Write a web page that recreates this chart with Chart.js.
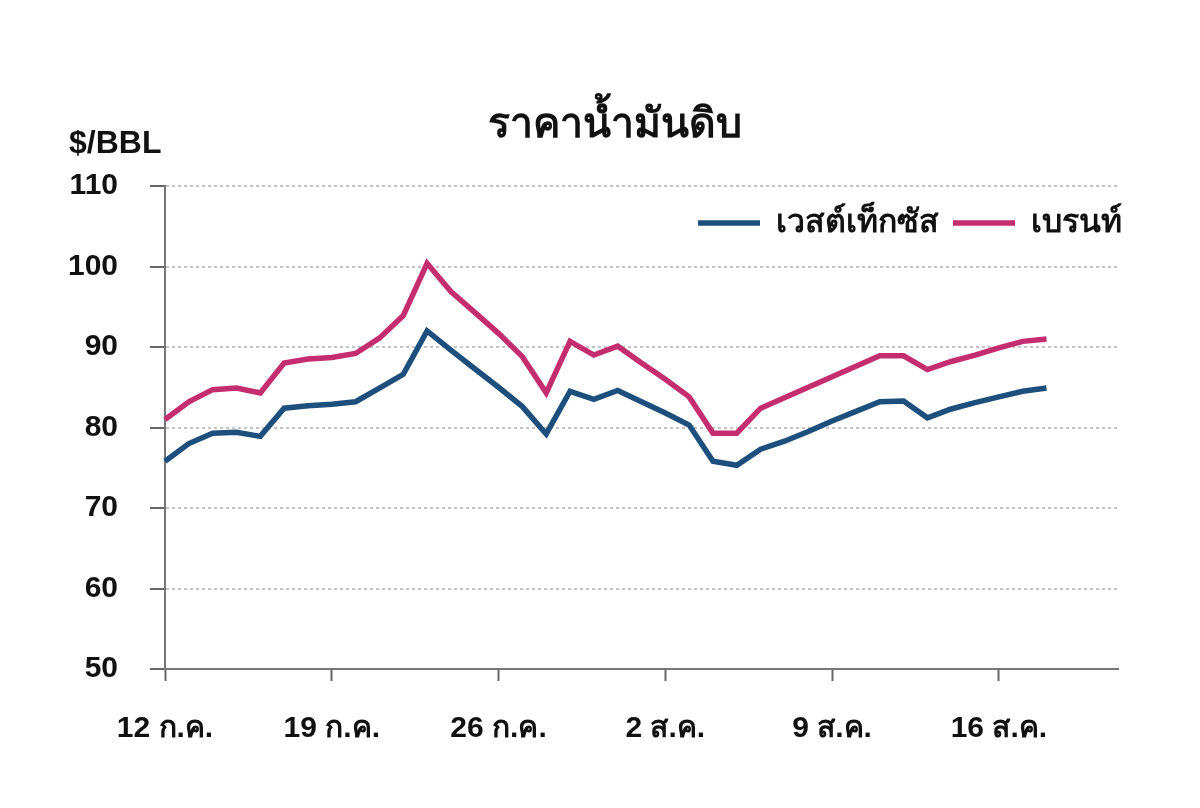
<!DOCTYPE html>
<html lang="th">
<head>
<meta charset="utf-8">
<title>ราคาน้ำมันดิบ</title>
<script src="https://cdn.jsdelivr.net/npm/chart.js@4/dist/chart.umd.min.js"></script>
<style>
    body { margin: 0; background: #fff; }
    #wrap { position: relative; width: 1200px; height: 808px; }
    #title { position: absolute; left: 0; width: 1230px; top: 90px; text-align: center;
        font: bold 41px 'Liberation Sans', 'Noto Sans', sans-serif; color: #111; }
    #unit { position: absolute; left: 69px; top: 124px;
        font: bold 32px 'Liberation Sans', Arial, sans-serif; color: #111; }
</style>
</head>
<body>
<div id="wrap">
    <canvas id="oil-chart"></canvas>
    <div id="title">ราคาน้ำมันดิบ</div>
    <div id="unit">$/BBL</div>
</div>
<script>
// วันที่ 12 ก.ค. - 21 ส.ค.
const days = [
    "12 ก.ค.", "13 ก.ค.", "14 ก.ค.", "15 ก.ค.", "16 ก.ค.", "17 ก.ค.", "18 ก.ค.",
    "19 ก.ค.", "20 ก.ค.", "21 ก.ค.", "22 ก.ค.", "23 ก.ค.", "24 ก.ค.", "25 ก.ค.",
    "26 ก.ค.", "27 ก.ค.", "28 ก.ค.", "29 ก.ค.", "30 ก.ค.", "31 ก.ค.", "1 ส.ค.",
    "2 ส.ค.", "3 ส.ค.", "4 ส.ค.", "5 ส.ค.", "6 ส.ค.", "7 ส.ค.", "8 ส.ค.",
    "9 ส.ค.", "10 ส.ค.", "11 ส.ค.", "12 ส.ค.", "13 ส.ค.", "14 ส.ค.", "15 ส.ค.",
    "16 ส.ค.", "17 ส.ค.", "18 ส.ค.", "19 ส.ค.", "20 ส.ค.", "21 ส.ค."
];

// เวสต์เท็กซัส (WTI)
const wti = [
    75.8, 78.0, 79.3, 79.4, 78.9, 82.4, 82.7, 82.9, 83.2, 84.9,
    86.6, 92.0, 89.6, 87.3, 85.0, 82.6, 79.2, 84.5, 83.5, 84.6,
    83.2, 81.8, 80.3, 75.8, 75.3, 77.3, 78.3, 79.5, 80.8, 82.0,
    83.2, 83.3, 81.2, 82.3, 83.1, 83.8, 84.5, 84.9
];

// เบรนท์
const brent = [
    81.0, 83.2, 84.7, 84.9, 84.3, 88.0, 88.5, 88.7, 89.2, 91.1,
    93.9, 100.4, 96.9, 94.3, 91.7, 88.8, 84.3, 90.7, 89.0, 90.1,
    88.0, 86.0, 83.8, 79.3, 79.3, 82.4, 83.7, 85.0, 86.3, 87.6,
    88.9, 88.9, 87.2, 88.2, 89.0, 89.9, 90.7, 91.0
];

const seriesNames = ["เวสต์เท็กซัส", "เบรนท์"];
const yTicks = [50, 60, 70, 80, 90, 100, 110];

Chart.defaults.font.family = "'Liberation Sans', Arial, 'Noto Sans', sans-serif";
Chart.defaults.font.weight = "bold";
Chart.defaults.color = "#111";

// ย้าย legend ลงมาไว้ในพื้นที่กราฟ มุมขวาบน
const legendInside = {
    id: "legendInside",
    afterLayout(chart) {
        const lg = chart.legend;
        const dy = 193 - lg.top;
        const dx = 18;
        lg.top += dy;
        lg.bottom += dy;
        lg.left += dx;
        lg.right += dx;
    }
};

const ctx = document.getElementById("oil-chart").getContext("2d");
new Chart(ctx, {
    type: "line",
    data: {
        labels: days,
        datasets: [
            {
                label: seriesNames[0],
                data: wti,
                borderColor: "#1c4f7c",
                backgroundColor: "#1c4f7c",
                borderWidth: 5.5,
                pointRadius: 0,
                tension: 0
            },
            {
                label: seriesNames[1],
                data: brent,
                borderColor: "#c42d70",
                backgroundColor: "#c42d70",
                borderWidth: 5.5,
                pointRadius: 0,
                tension: 0
            }
        ]
    },
    plugins: [legendInside],
    options: {
        responsive: true,
        maintainAspectRatio: false,
        animation: false,
        layout: { padding: { left: 0, right: 82, top: 130, bottom: 31 } },
        plugins: {
            title: { display: false },
            tooltip: { enabled: false },
            legend: {
                position: "top",
                align: "end",
                labels: {
                    usePointStyle: true,
                    pointStyle: "line",
                    pointStyleWidth: 62,
                    font: { size: 32, weight: "bold" },
                    color: "#111",
                    padding: 14
                }
            }
        },
        scales: {
            x: {
                grid: {
                    drawOnChartArea: false,
                    drawTicks: true,
                    tickLength: 12,
                    color: "transparent",
                    tickColor: (c) => (c.index % 7 === 0 ? "#666" : "transparent"),
                    tickWidth: 2
                },
                border: { color: "#777", width: 2 },
                ticks: {
                    autoSkip: false,
                    maxRotation: 0,
                    padding: 30,
                    font: { size: 30, weight: "bold" },
                    callback: (v, i) => (i % 7 === 0 ? days[i] : "")
                }
            },
            y: {
                min: yTicks[0],
                max: yTicks[yTicks.length - 1],
                afterFit: (scale) => { scale.width = 165; },
                afterBuildTicks: (scale) => { scale.ticks = yTicks.map(v => ({ value: v })); },
                grid: {
                    color: (c) => (c.tick && c.tick.value === 50 ? "transparent" : "#c4c4c4"),
                    lineWidth: 2,
                    tickLength: 15,
                    tickColor: "#666",
                    tickWidth: 2
                },
                border: { color: "#777", width: 2, dash: [3, 3] },
                ticks: {
                    padding: 32,
                    font: { size: 30, weight: "bold" }
                }
            }
        }
    }
});
</script>
</body>
</html>
